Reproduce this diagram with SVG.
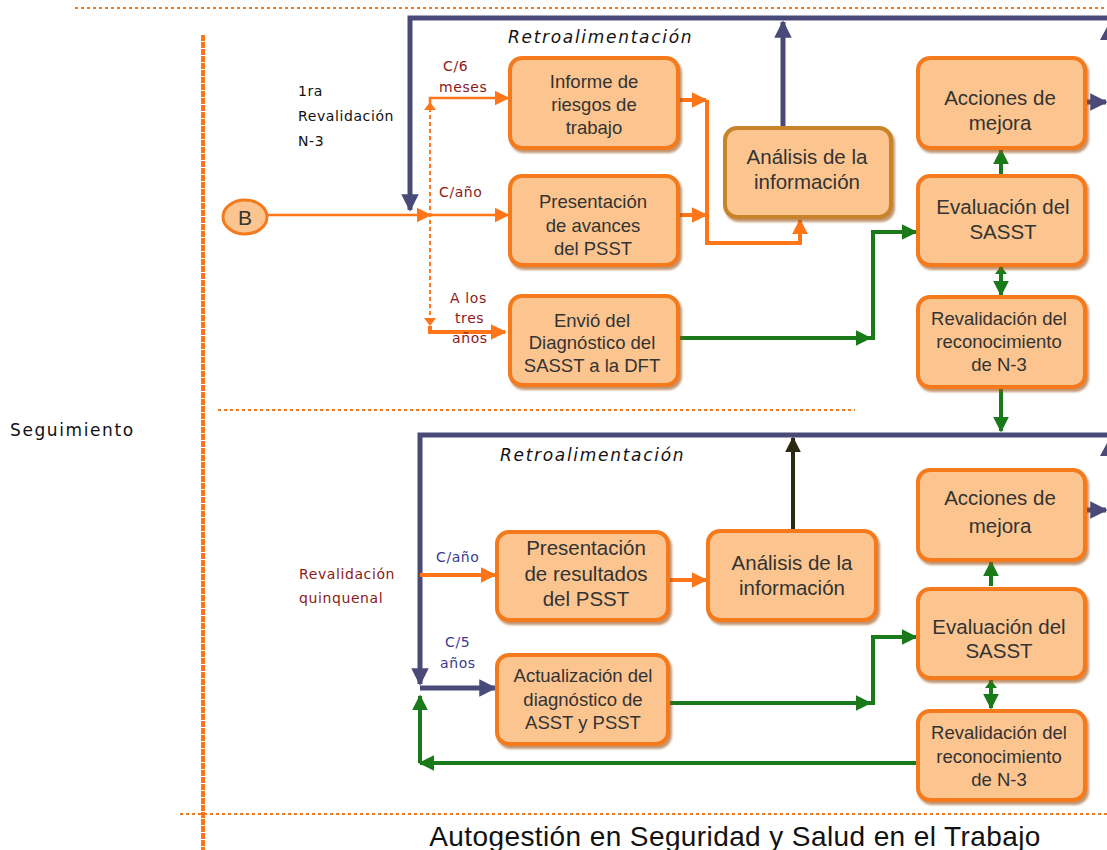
<svg xmlns="http://www.w3.org/2000/svg" width="1107" height="850" viewBox="0 0 1107 850">
<defs>
<style>
.box{fill:#fcc58f;stroke:#f47a1e;stroke-width:4;filter:url(#sh)}
.boxb{fill:#fcc58f;stroke:#c8842a;stroke-width:4;filter:url(#sh)}
.t{font-family:"Liberation Sans",Arial,sans-serif;fill:#333;text-anchor:middle}
.t16{font-size:18.5px}
.t18{font-size:20.5px}
.lbl{font-family:"DejaVu Sans",Verdana,sans-serif;font-size:14px;letter-spacing:0.6px}
.red{fill:#8b1a1a}
.nv{fill:#3a3a90}
.o{stroke:#ff7518;stroke-width:2.5;fill:none}
.ob{stroke:#ff7518;stroke-width:4;fill:none}
.od{stroke:#ff7518;stroke-width:2;fill:none;stroke-dasharray:4 3}
.n{stroke:#4a4a78;stroke-width:5;fill:none}
.g{stroke:#1a7a1a;stroke-width:4;fill:none}
.dk{stroke:#2a2a10;stroke-width:4;fill:none}
.sep{stroke:#f07a20;stroke-width:2;stroke-dasharray:3 3;fill:none}
.retro{font-family:"DejaVu Sans",Verdana,sans-serif;font-size:17px;font-style:italic;letter-spacing:1.7px;fill:#111}
</style>
<filter id="sh" x="-10%" y="-10%" width="130%" height="130%">
<feDropShadow dx="2" dy="3" stdDeviation="1" flood-color="#9a5010" flood-opacity="0.6"/>
</filter>
<marker id="ao" viewBox="0 0 10 10" refX="9" refY="5" markerWidth="4" markerHeight="4" orient="auto-start-reverse" markerUnits="strokeWidth"><path d="M0,0L10,5L0,10z" fill="#ff7518"/></marker>
<marker id="ao2" viewBox="0 0 10 10" refX="9" refY="5" markerWidth="6" markerHeight="6" orient="auto-start-reverse" markerUnits="strokeWidth"><path d="M0,0L10,5L0,10z" fill="#ff7518"/></marker>
<marker id="an" viewBox="0 0 10 10" refX="9" refY="5" markerWidth="3.5" markerHeight="3.5" orient="auto-start-reverse" markerUnits="strokeWidth"><path d="M0,0L10,5L0,10z" fill="#4a4a78"/></marker>
<marker id="ag" viewBox="0 0 10 10" refX="9" refY="5" markerWidth="4" markerHeight="4" orient="auto-start-reverse" markerUnits="strokeWidth"><path d="M0,0L10,5L0,10z" fill="#1a7a1a"/></marker>
<marker id="ak" viewBox="0 0 10 10" refX="9" refY="5" markerWidth="4" markerHeight="4" orient="auto-start-reverse" markerUnits="strokeWidth"><path d="M0,0L10,5L0,10z" fill="#2a2a10"/></marker>
</defs>

<g id="frame">
<line class="sep" x1="75" y1="8" x2="1107" y2="8"/>
<line stroke="#ff7518" stroke-width="4" stroke-dasharray="6 1" x1="203" y1="35" x2="203" y2="850"/>
<line class="sep" x1="218" y1="410" x2="855" y2="410"/>
<line class="sep" x1="180" y1="814" x2="1107" y2="814"/>
<text x="10" y="436" font-family="DejaVu Sans,Verdana,sans-serif" font-size="17" letter-spacing="1.6" fill="#111">Seguimiento</text>
<text x="735" y="846" font-family="Liberation Sans,Arial,sans-serif" font-size="28" letter-spacing="0.4" fill="#111" text-anchor="middle">Autogestión en Seguridad y Salud en el Trabajo</text>
</g>

<g id="connectors">
<!-- top feedback -->
<polyline class="n" points="1107,18 410,18 410,210" marker-end="url(#an)"/>
<line class="n" x1="783" y1="128" x2="783" y2="22" marker-end="url(#an)"/>
<path d="M1100,40 L1107,27 L1114,40z" fill="#4a4a78"/>
<line class="n" x1="1087" y1="102" x2="1106" y2="102" marker-end="url(#an)"/>
<!-- B lines -->
<line class="o" x1="268" y1="215" x2="430" y2="215" marker-end="url(#ao2)"/>
<line class="o" x1="430" y1="215" x2="508" y2="215" marker-end="url(#ao2)"/>
<line class="od" x1="430" y1="108" x2="430" y2="322"/>
<polyline class="o" points="430,108 430,98 508,98" marker-end="url(#ao2)"/>
<path d="M424,110 L430,102 L436,110z" fill="#ff7518"/>
<path d="M424,318 L430,326 L436,318z" fill="#ff7518"/>
<polyline class="ob" points="430,326 430,332 505,332" marker-end="url(#ao)"/>
<!-- to Analisis -->
<line class="ob" x1="680" y1="100" x2="706" y2="100" marker-end="url(#ao)"/>
<line class="ob" x1="680" y1="215" x2="706" y2="215" marker-end="url(#ao)"/>
<polyline class="ob" points="707,100 707,243 800,243 800,220" marker-end="url(#ao)"/>
<!-- green top -->
<polyline class="g" points="680,338 870,338" marker-end="url(#ag)"/>
<polyline class="g" points="870,338 873,338 873,232 916,232" marker-end="url(#ag)"/>
<line class="g" x1="1001" y1="160" x2="1001" y2="150" marker-end="url(#ag)"/>
<line class="g" x1="1001" y1="160" x2="1001" y2="175"/>
<line class="g" x1="1001" y1="267" x2="1001" y2="295" marker-end="url(#ag)"/>
<path d="M995,274 L1001,266 L1007,274z" fill="#1a7a1a"/>
<line class="g" x1="1001" y1="389" x2="1001" y2="431" marker-end="url(#ag)"/>
<!-- bottom feedback -->
<polyline class="n" points="1107,435 420,435 420,684" marker-end="url(#an)"/>
<polyline class="n" points="420,688 495,688" marker-end="url(#an)"/>
<line class="dk" x1="793" y1="532" x2="793" y2="438" marker-end="url(#ak)"/>
<path d="M1100,456 L1107,443 L1114,456z" fill="#4a4a78"/>
<line class="n" x1="1087" y1="510" x2="1106" y2="510" marker-end="url(#an)"/>
<line class="ob" x1="420" y1="575" x2="495" y2="575" marker-end="url(#ao)"/>
<line class="ob" x1="670" y1="580" x2="706" y2="580" marker-end="url(#ao)"/>
<!-- green bottom -->
<line class="g" x1="670" y1="703" x2="870" y2="703" marker-end="url(#ag)"/>
<polyline class="g" points="870,703 873,703 873,637 916,637" marker-end="url(#ag)"/>
<line class="g" x1="991" y1="586" x2="991" y2="562" marker-end="url(#ag)"/>
<line class="g" x1="991" y1="680" x2="991" y2="708" marker-end="url(#ag)"/>
<path d="M985,688 L991,680 L997,688z" fill="#1a7a1a"/>
<polyline class="g" points="916,763 420,763" marker-end="url(#ag)"/>
<line class="g" x1="420" y1="763" x2="420" y2="696" marker-end="url(#ag)"/>
</g>

<g id="labels">
<text class="lbl" x="298" y="96" font-size="15" fill="#111">1ra</text>
<text class="lbl" x="298" y="121" font-size="15" fill="#111">Revalidación</text>
<text class="lbl" x="298" y="146" font-size="15" fill="#111">N-3</text>
<text class="lbl red" x="443" y="71" font-size="13">C/6</text>
<text class="lbl red" x="439" y="92" font-size="13">meses</text>
<text class="lbl red" x="439" y="197" font-size="13">C/año</text>
<text class="lbl red" x="450" y="303" font-size="13">A los</text>
<text class="lbl red" x="455" y="323" font-size="13">tres</text>
<text class="lbl red" x="452" y="343" font-size="13">años</text>
<text class="retro" x="508" y="43">Retroalimentación</text>
<text class="retro" x="500" y="461">Retroalimentación</text>
<text class="lbl red" x="299" y="579" font-size="15">Revalidación</text>
<text class="lbl red" x="299" y="603" font-size="15">quinquenal</text>
<text class="lbl nv" x="436" y="562" font-size="14">C/año</text>
<text class="lbl nv" x="445" y="647" font-size="14">C/5</text>
<text class="lbl nv" x="440" y="668" font-size="14">años</text>
</g>

<g id="nodeB">
<ellipse cx="245" cy="217" rx="22" ry="17" fill="#fcc58f" stroke="#f47a1e" stroke-width="3"/>
<text class="t" x="245" y="225" font-size="21">B</text>
</g>

<g id="informe">
<rect class="box" x="510" y="58" width="168" height="90" rx="12"/>
<text class="t t16" x="594" y="88">Informe de</text>
<text class="t t16" x="594" y="111">riesgos de</text>
<text class="t t16" x="594" y="134">trabajo</text>
</g>
<g id="presentacion1">
<rect class="box" x="510" y="176" width="168" height="89" rx="12"/>
<text class="t t16" x="593" y="208">Presentación</text>
<text class="t t16" x="593" y="232">de avances</text>
<text class="t t16" x="593" y="255">del PSST</text>
</g>
<g id="envio">
<rect class="box" x="510" y="296" width="168" height="89" rx="12"/>
<text class="t t16" x="592" y="327">Envió del</text>
<text class="t t16" x="592" y="349">Diagnóstico del</text>
<text class="t t16" x="592" y="372">SASST a la DFT</text>
</g>
<g id="analisis1">
<rect class="boxb" x="725" y="128" width="166" height="89" rx="12"/>
<text class="t t18" x="807" y="164">Análisis de la</text>
<text class="t t18" x="807" y="189">información</text>
</g>
<g id="acciones1">
<rect class="box" x="918" y="58" width="167" height="90" rx="12"/>
<text class="t t18" x="1000" y="105">Acciones de</text>
<text class="t t18" x="1000" y="130">mejora</text>
</g>
<g id="evaluacion1">
<rect class="box" x="918" y="176" width="167" height="89" rx="12"/>
<text class="t t18" x="1003" y="214">Evaluación del</text>
<text class="t t18" x="1003" y="239">SASST</text>
</g>
<g id="revalidacion1">
<rect class="box" x="918" y="297" width="167" height="90" rx="12"/>
<text class="t t16" x="999" y="325">Revalidación del</text>
<text class="t t16" x="999" y="348">reconocimiento</text>
<text class="t t16" x="999" y="371">de N-3</text>
</g>

<g id="presentacion2">
<rect class="box" x="497" y="532" width="171" height="88" rx="12"/>
<text class="t t18" x="586" y="555">Presentación</text>
<text class="t t18" x="586" y="581">de resultados</text>
<text class="t t18" x="586" y="606">del PSST</text>
</g>
<g id="analisis2">
<rect class="box" x="708" y="531" width="168" height="89" rx="12"/>
<text class="t t18" x="792" y="570">Análisis de la</text>
<text class="t t18" x="792" y="595">información</text>
</g>
<g id="acciones2">
<rect class="box" x="918" y="470" width="167" height="90" rx="12"/>
<text class="t t18" x="1000" y="505">Acciones de</text>
<text class="t t18" x="1000" y="533">mejora</text>
</g>
<g id="evaluacion2">
<rect class="box" x="918" y="589" width="167" height="89" rx="12"/>
<text class="t t18" x="999" y="634">Evaluación del</text>
<text class="t t18" x="999" y="658">SASST</text>
</g>
<g id="actualizacion">
<rect class="box" x="497" y="655" width="171" height="89" rx="12"/>
<text class="t t16" x="583" y="682">Actualización del</text>
<text class="t t16" x="583" y="706">diagnóstico de</text>
<text class="t t16" x="583" y="729">ASST y PSST</text>
</g>
<g id="revalidacion2">
<rect class="box" x="918" y="711" width="167" height="89" rx="12"/>
<text class="t t16" x="999" y="739">Revalidación del</text>
<text class="t t16" x="999" y="763">reconocimiento</text>
<text class="t t16" x="999" y="786">de N-3</text>
</g>
</svg>
